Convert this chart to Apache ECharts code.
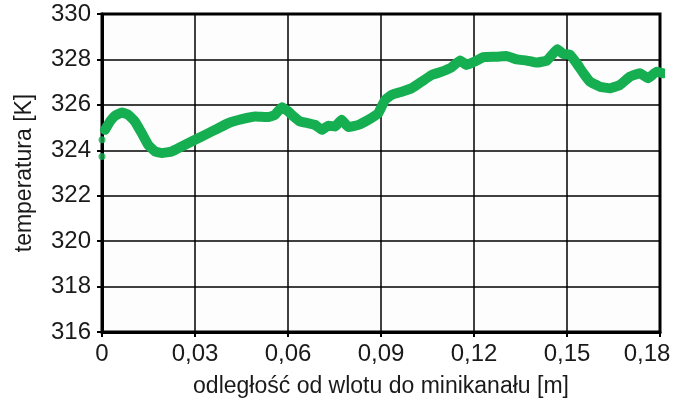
<!DOCTYPE html>
<html>
<head>
<meta charset="utf-8">
<script src="https://cdn.jsdelivr.net/npm/echarts@6/dist/echarts.min.js"></script>
<style>
  html, body { margin: 0; padding: 0; background: #ffffff; }
  #chart { width: 682px; height: 403px; }
</style>
</head>
<body>
<div id="chart"></div>
<script>
// distance from channel inlet [m]
const xValues = [0.001, 0.0026, 0.0042, 0.0064, 0.0085, 0.0106, 0.0128, 0.0149, 0.0171, 0.0193,
  0.0225, 0.0257, 0.0289, 0.0322, 0.0365, 0.0407, 0.0451, 0.0494, 0.0537, 0.0558,
  0.058, 0.0601, 0.0612, 0.0639, 0.0666, 0.0687, 0.0709, 0.073, 0.0752, 0.0773,
  0.0795, 0.0827, 0.0859, 0.0891, 0.0913, 0.0935, 0.0967, 0.0999, 0.1031, 0.1064,
  0.1096, 0.1128, 0.1155, 0.1176, 0.1209, 0.123, 0.1273, 0.1305, 0.1338, 0.137,
  0.1402, 0.1435, 0.1456, 0.1469, 0.1488, 0.151, 0.1531, 0.1553, 0.1574, 0.1606,
  0.1639, 0.1671, 0.1703, 0.1735, 0.1762, 0.1789, 0.181];
// temperature [K]
const tValues = [324.90, 325.27, 325.52, 325.66, 325.56, 325.27, 324.76, 324.24, 323.95, 323.88,
  323.95, 324.17, 324.39, 324.61, 324.90, 325.19, 325.37, 325.49, 325.46, 325.56,
  325.90, 325.71, 325.56, 325.27, 325.19, 325.12, 324.90, 325.08, 325.05, 325.34,
  325.02, 325.12, 325.34, 325.63, 326.22, 326.44, 326.58, 326.73, 327.02, 327.32,
  327.46, 327.66, 327.95, 327.76, 327.95, 328.10, 328.12, 328.15, 328.00, 327.95,
  327.86, 327.95, 328.27, 328.45, 328.24, 328.20, 327.83, 327.39, 327.02, 326.80,
  326.73, 326.88, 327.24, 327.39, 327.17, 327.46, 327.39];
// isolated points at the inlet
const inletX = [0, 0];
const inletT = [324.46, 323.73];

const xTicks = [0, 0.03, 0.06, 0.09, 0.12, 0.15, 0.18];
const yTicks = [316, 318, 320, 322, 324, 326, 328, 330];

const FONT = 'Liberation Sans, Arial, sans-serif';
const chart = echarts.init(document.getElementById('chart'), null, { renderer: 'canvas' });

const xMax = xTicks[xTicks.length - 1];

chart.setOption({
  animation: false,
  backgroundColor: '#ffffff',
  grid: {
    left: 102, right: 22, top: 14, bottom: 70.5,
    show: true, borderColor: '#000', borderWidth: 3, backgroundColor: '#fdfdfd'
  },
  xAxis: {
    type: 'value',
    min: xTicks[0], max: xMax, interval: 0.03,
    name: 'odległość od wlotu do minikanału [m]',
    nameLocation: 'middle', nameGap: 43,
    nameTextStyle: { fontFamily: FONT, fontSize: 23, color: '#1a1a1a' },
    axisLine: { show: true, onZero: false, lineStyle: { color: '#000', width: 3 } },
    axisTick: { show: true, inside: false, length: 5, lineStyle: { color: '#000', width: 2 } },
    axisLabel: {
      margin: 10, fontFamily: FONT, fontSize: 24, color: '#1a1a1a',
      formatter: v => {
        const s = v === 0 ? '0' : v.toFixed(2).replace('.', ',');
        return Math.abs(v - xMax) < 1e-9 ? '{last|' + s + '}' : s;
      },
      rich: {
        last: { fontFamily: FONT, fontSize: 24, color: '#1a1a1a', padding: [0, 26, 0, 0] }
      }
    },
    splitLine: { show: true, lineStyle: { color: '#000', width: 1.5 } }
  },
  yAxis: {
    type: 'value',
    min: yTicks[0], max: yTicks[yTicks.length - 1], interval: 2,
    name: 'temperatura [K]',
    nameLocation: 'middle', nameGap: 66,
    nameTextStyle: { fontFamily: FONT, fontSize: 23, color: '#1a1a1a' },
    axisLine: { show: true, onZero: false, lineStyle: { color: '#000', width: 3 } },
    axisTick: { show: true, inside: false, length: 5, lineStyle: { color: '#000', width: 2 } },
    axisLabel: { margin: 11, fontFamily: FONT, fontSize: 24, color: '#1a1a1a' },
    splitLine: { show: true, lineStyle: { color: '#000', width: 1.5 } }
  },
  series: [
    {
      type: 'line',
      data: xValues.map((x, i) => [x, tValues[i]]),
      showSymbol: false,
      symbol: 'none',
      clip: false,
      smooth: 0.1,
      lineStyle: { color: '#15ae50', width: 10, cap: 'round', join: 'round' },
      z: 5
    },
    {
      type: 'scatter',
      data: inletX.map((x, i) => [x, inletT[i]]),
      symbolSize: 7,
      clip: false,
      itemStyle: { color: '#15ae50' },
      z: 5
    }
  ]
});
</script>
</body>
</html>
